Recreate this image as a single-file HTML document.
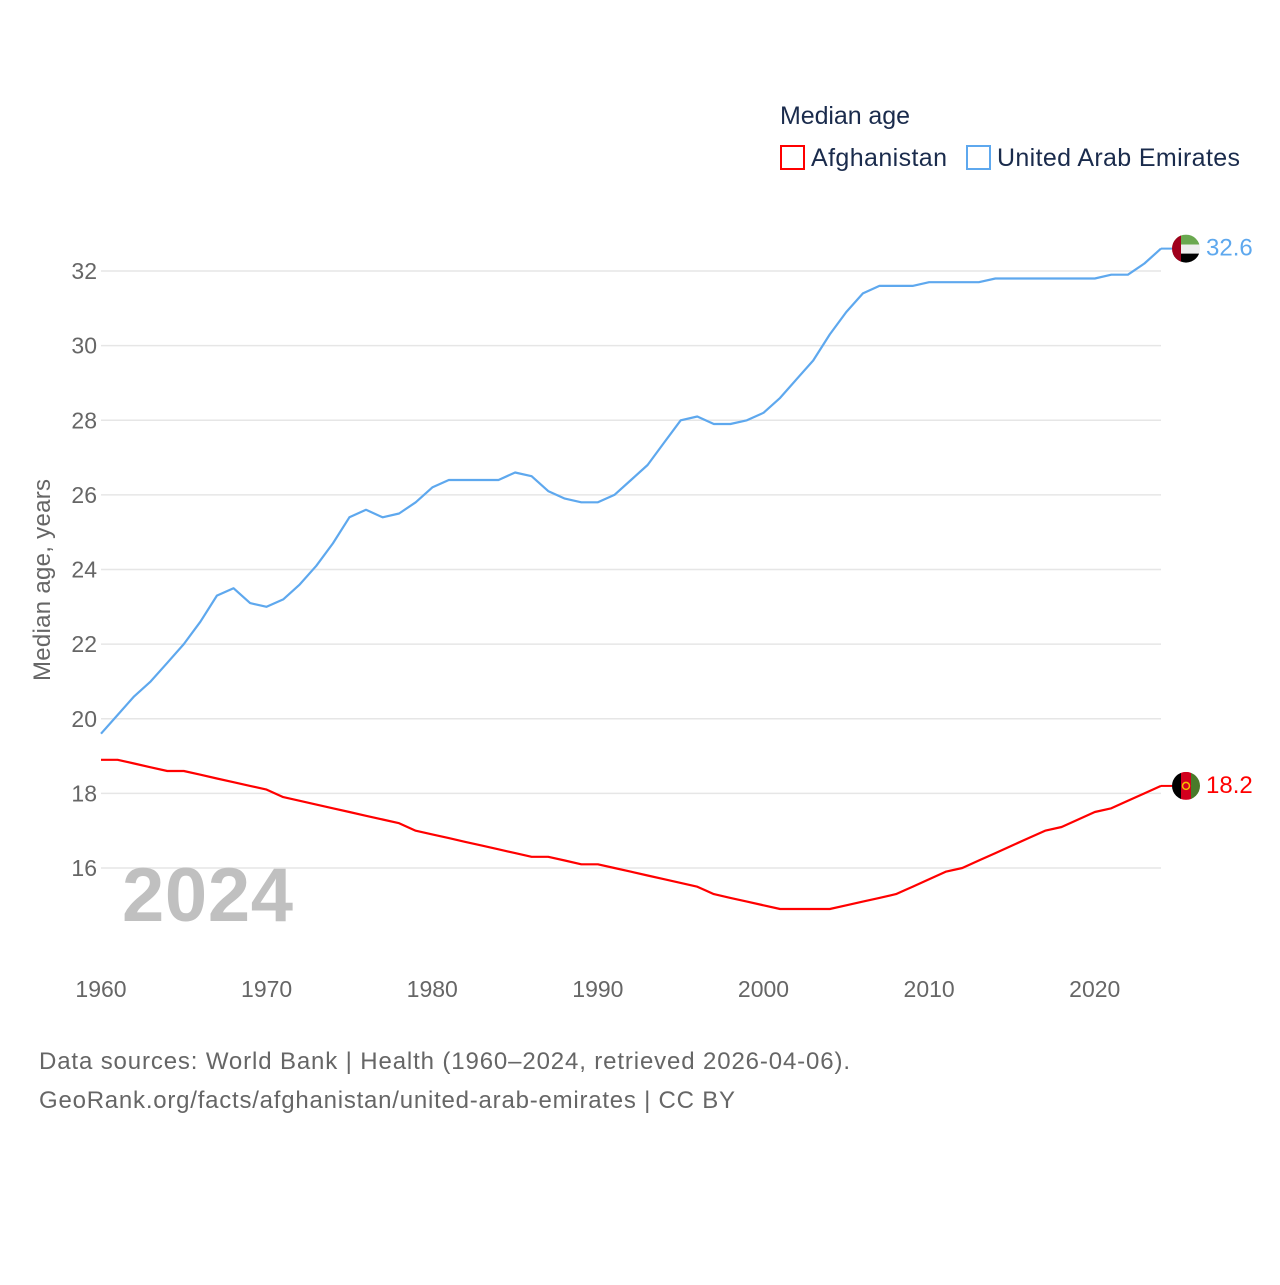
<!DOCTYPE html>
<html><head><meta charset="utf-8">
<style>
body{margin:0;background:#fff;font-family:"Liberation Sans",sans-serif;}
svg text{font-family:"Liberation Sans",sans-serif;}
</style></head>
<body>
<svg width="1280" height="1280" xmlns="http://www.w3.org/2000/svg">
<text x="780" y="124" font-size="25" fill="#1a2b4c" textLength="130">Median age</text>
<g>
<rect x="781" y="146" width="23" height="23" fill="none" stroke="#ff0000" stroke-width="2"/>
<text x="811" y="166" font-size="25" fill="#1a2b4c" textLength="136">Afghanistan</text></g>
<g>
<rect x="967" y="146" width="23" height="23" fill="none" stroke="#5ea8ee" stroke-width="2"/>
<text x="997" y="166" font-size="25" fill="#1a2b4c" textLength="243">United Arab Emirates</text></g>
<g id="grid"></g>
<g id="yticks"></g>
<g id="xticks"></g>
<text transform="translate(50,580) rotate(-90)" text-anchor="middle" font-size="24" fill="#666" textLength="202">Median age, years</text>
<text x="122" y="921" font-size="76" font-weight="bold" fill="#c0c0c0" textLength="171">2024</text>
<g id="series"></g>
<text x="39" y="1069" font-size="24" fill="#666" textLength="811">Data sources: World Bank | Health (1960–2024, retrieved 2026-04-06).</text>
<text x="39" y="1108" font-size="24" fill="#666" textLength="696">GeoRank.org/facts/afghanistan/united-arab-emirates | CC BY</text>
</svg>
<script>
const years=[];for(let y=1960;y<=2024;y++)years.push(y);
const uae=[19.6,20.1,20.6,21.0,21.5,22.0,22.6,23.3,23.5,23.1,23.0,23.2,23.6,24.1,24.7,25.4,25.6,25.4,25.5,25.8,26.2,26.4,26.4,26.4,26.4,26.6,26.5,26.1,25.9,25.8,25.8,26.0,26.4,26.8,27.4,28.0,28.1,27.9,27.9,28.0,28.2,28.6,29.1,29.6,30.3,30.9,31.4,31.6,31.6,31.6,31.7,31.7,31.7,31.7,31.8,31.8,31.8,31.8,31.8,31.8,31.8,31.9,31.9,32.2,32.6];
const afg=[18.9,18.9,18.8,18.7,18.6,18.6,18.5,18.4,18.3,18.2,18.1,17.9,17.8,17.7,17.6,17.5,17.4,17.3,17.2,17.0,16.9,16.8,16.7,16.6,16.5,16.4,16.3,16.3,16.2,16.1,16.1,16.0,15.9,15.8,15.7,15.6,15.5,15.3,15.2,15.1,15.0,14.9,14.9,14.9,14.9,15.0,15.1,15.2,15.3,15.5,15.7,15.9,16.0,16.2,16.4,16.6,16.8,17.0,17.1,17.3,17.5,17.6,17.8,18.0,18.2];
const yTicks=[16,18,20,22,24,26,28,30,32];
const xTicks=[1960,1970,1980,1990,2000,2010,2020];
const NS="http://www.w3.org/2000/svg";
const X=v=>101+(v-1960)*(1161-101)/64;
const Y=v=>868-(v-16)*(868-271)/16;
function mk(tag,attrs,parent){const e=document.createElementNS(NS,tag);for(const k in attrs)e.setAttribute(k,attrs[k]);parent.appendChild(e);return e;}
const grid=document.getElementById('grid'),yt=document.getElementById('yticks'),xt=document.getElementById('xticks'),ser=document.getElementById('series');
yTicks.forEach(t=>{
 const l=mk('line',{x1:101,x2:1161,y1:Y(t),y2:Y(t),stroke:'#e6e6e6','stroke-width':1.5},grid);
 
 
 const tx=mk('text',{x:97,y:Y(t)+8,'text-anchor':'end','font-size':23,fill:'#666'},yt);tx.textContent=t;
 
 
});
xTicks.forEach(t=>{
 const tx=mk('text',{x:X(t),y:997,'text-anchor':'middle','font-size':23,fill:'#666'},xt);tx.textContent=t;
 
 
});
function series(vals,color,name,flag){
 const d=vals.map((v,i)=>(i?'L':'M')+X(years[i]).toFixed(1)+' '+Y(v).toFixed(1)).join(' ');
 const p=mk('path',{d:d,fill:'none',stroke:color,'stroke-width':2.2,'stroke-linejoin':'round'},ser);
 
 
 const last=vals[vals.length-1],ly=Y(last);
 mk('line',{x1:1161,x2:1172,y1:ly,y2:ly,stroke:color,'stroke-width':2},ser);
 const g=mk('g',{},ser);
 
 
 const cid='c'+name;
 const cp=mk('clipPath',{id:cid},g);mk('circle',{cx:1186,cy:ly,r:14},cp);
 const fg=mk('g',{'clip-path':'url(#'+cid+')'},g);
 flag(fg,ly);
 const tx=mk('text',{x:1206,y:ly+7,'font-size':24,fill:color},ser);tx.textContent=last.toFixed(1);
 
 
}
series(uae,'#5ea8ee','uae',(g,cy)=>{
 mk('rect',{x:1172,y:cy-14,width:28,height:10,fill:'#6aa84f'},g);
 mk('rect',{x:1172,y:cy-4,width:28,height:9,fill:'#eee'},g);
 mk('rect',{x:1172,y:cy+5,width:28,height:10,fill:'#000'},g);
 mk('rect',{x:1172,y:cy-14,width:9,height:28,fill:'#a0001c'},g);
});
series(afg,'#ff0000','afghanistan',(g,cy)=>{
 mk('rect',{x:1172,y:cy-14,width:9,height:28,fill:'#000'},g);
 mk('rect',{x:1181,y:cy-14,width:10,height:28,fill:'#d2001e'},g);
 mk('rect',{x:1191,y:cy-14,width:9,height:28,fill:'#4a7a2a'},g);
 mk('circle',{cx:1186,cy:cy,r:3.5,fill:'none',stroke:'#f5c000','stroke-width':1.5},g);
});
</script>
</body></html>
